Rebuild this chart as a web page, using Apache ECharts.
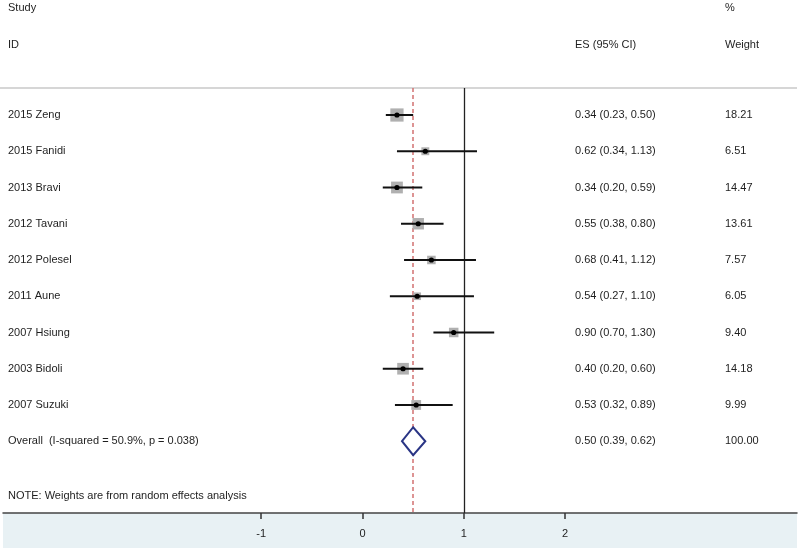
<!DOCTYPE html>
<html>
<head>
<meta charset="utf-8">
<script src="https://cdn.jsdelivr.net/npm/echarts@6/dist/echarts.min.js"></script>
<style>
html,body{margin:0;padding:0;background:#fff;}
#chart{width:800px;height:551px;}
</style>
</head>
<body>
<div id="chart"></div>
<script>
// ---- data ----
var studies = ['2015 Zeng','2015 Fanidi','2013 Bravi','2012 Tavani','2012 Polesel','2011 Aune','2007 Hsiung','2003 Bidoli','2007 Suzuki'];
var es      = [0.34, 0.62, 0.34, 0.55, 0.68, 0.54, 0.90, 0.40, 0.53];
var ciLow   = [0.23, 0.34, 0.20, 0.38, 0.41, 0.27, 0.70, 0.20, 0.32];
var ciHigh  = [0.50, 1.13, 0.59, 0.80, 1.12, 1.10, 1.30, 0.60, 0.89];
var weights = [18.21, 6.51, 14.47, 13.61, 7.57, 6.05, 9.40, 14.18, 9.99];
var overallLabel = 'Overall  (I-squared = 50.9%, p = 0.038)';
var overall = {es: 0.50, low: 0.39, high: 0.62, weight: 100.00};
var xTicks = [-1, 0, 1, 2];
var nullValue = 1;
var noteText = 'NOTE: Weights are from random effects analysis';

function fmt2(v){ return v.toFixed(2); }
function esText(e,l,h){ return fmt2(e) + ' (' + fmt2(l) + ', ' + fmt2(h) + ')'; }

var FONT = '"Liberation Sans", Arial, sans-serif';
var TXT = '#1e1e1e';
var FNT = '11px ' + FONT;
var COL_ES = 575, COL_W = 725, COL_L = 8;

var studyData = studies.map(function(s,i){
  return [i, es[i], ciLow[i], ciHigh[i], weights[i]];
});
var overallRow = studies.length;

var chart = echarts.init(document.getElementById('chart'), null, {renderer:'canvas'});
var option = {
  animation:false,
  backgroundColor:'#ffffff',
  grid:{left:3, right:3, top:88, bottom:38, containLabel:false},
  xAxis:{
    type:'value', min:-3.549, max:4.289,
    splitLine:{show:false},
    axisLine:{show:true, onZero:false, lineStyle:{color:'#444', width:1.5}},
    axisTick:{show:true, customValues:xTicks, length:6, lineStyle:{color:'#333', width:1.5}},
    axisLabel:{show:true, customValues:xTicks, margin:15, color:TXT, fontSize:11, fontFamily:FONT}
  },
  yAxis:{type:'value', inverse:true, min:-0.745, max:10.98, show:false},
  graphic:[
    {type:'rect', z:-1, shape:{x:3, y:513, width:794, height:35}, style:{fill:'#e8f1f4'}},
    {type:'line', shape:{x1:0, y1:88, x2:797, y2:88}, style:{stroke:'#d6d6d6', lineWidth:2}},
    {type:'text', style:{x:COL_L, y:8, text:'Study', fill:TXT, font:FNT, verticalAlign:'middle'}},
    {type:'text', style:{x:COL_L, y:45, text:'ID', fill:TXT, font:FNT, verticalAlign:'middle'}},
    {type:'text', style:{x:COL_ES, y:45, text:'ES (95% CI)', fill:TXT, font:FNT, verticalAlign:'middle'}},
    {type:'text', style:{x:COL_W, y:8, text:'%', fill:TXT, font:FNT, verticalAlign:'middle'}},
    {type:'text', style:{x:COL_W, y:45, text:'Weight', fill:TXT, font:FNT, verticalAlign:'middle'}}
  ],
  series:[
    {
      type:'custom',
      coordinateSystem:'cartesian2d',
      data:studyData,
      z:5,
      renderItem:function(params, api){
        var i = api.value(0), e = api.value(1), l = api.value(2), h = api.value(3), w = api.value(4);
        var p = api.coord([e, i]);
        var pl = api.coord([l, i]);
        var ph = api.coord([h, i]);
        var side = 3.1 * Math.sqrt(w);
        return {type:'group', children:[
          {type:'rect', shape:{x:p[0]-side/2, y:p[1]-side/2, width:side, height:side}, style:{fill:'#b0b0b0'}},
          {type:'line', shape:{x1:pl[0], y1:pl[1], x2:ph[0], y2:ph[1]}, style:{stroke:'#111', lineWidth:2}},
          {type:'circle', shape:{cx:p[0], cy:p[1], r:2.6}, style:{fill:'#000'}},
          {type:'text', style:{x:COL_L, y:p[1], text:studies[i], fill:TXT, font:FNT, verticalAlign:'middle'}},
          {type:'text', style:{x:COL_ES, y:p[1], text:esText(e,l,h), fill:TXT, font:FNT, verticalAlign:'middle'}},
          {type:'text', style:{x:COL_W, y:p[1], text:fmt2(w), fill:TXT, font:FNT, verticalAlign:'middle'}}
        ]};
      },
      markLine:{
        silent:true, symbol:'none', animation:false,
        label:{show:false},
        data:[
          {xAxis:nullValue, lineStyle:{color:'#222', width:1.3, type:'solid'}},
          {xAxis:overall.es, lineStyle:{color:'#d27272', width:1.5, type:[4,3]}}
        ]
      }
    },
    {
      type:'custom',
      coordinateSystem:'cartesian2d',
      data:[[overallRow, overall.es, overall.low, overall.high, overall.weight]],
      z:6,
      renderItem:function(params, api){
        var r = api.value(0), e = api.value(1), l = api.value(2), h = api.value(3), w = api.value(4);
        var c = api.coord([e, r]);
        var pl = api.coord([l, r]);
        var ph = api.coord([h, r]);
        var hh = 14;
        var note = api.coord([e, r + 1.5]);
        return {type:'group', children:[
          {type:'polygon', shape:{points:[[pl[0],c[1]],[c[0],c[1]-hh],[ph[0],c[1]],[c[0],c[1]+hh]]}, style:{fill:'#fff', stroke:'#2a3585', lineWidth:2}},
          {type:'text', style:{x:COL_L, y:c[1], text:overallLabel, fill:TXT, font:FNT, verticalAlign:'middle'}},
          {type:'text', style:{x:COL_ES, y:c[1], text:esText(e,l,h), fill:TXT, font:FNT, verticalAlign:'middle'}},
          {type:'text', style:{x:COL_W, y:c[1], text:fmt2(w), fill:TXT, font:FNT, verticalAlign:'middle'}},
          {type:'text', style:{x:COL_L, y:note[1], text:noteText, fill:TXT, font:FNT, verticalAlign:'middle'}}
        ]};
      }
    }
  ]
};
chart.setOption(option);
</script>
</body>
</html>
